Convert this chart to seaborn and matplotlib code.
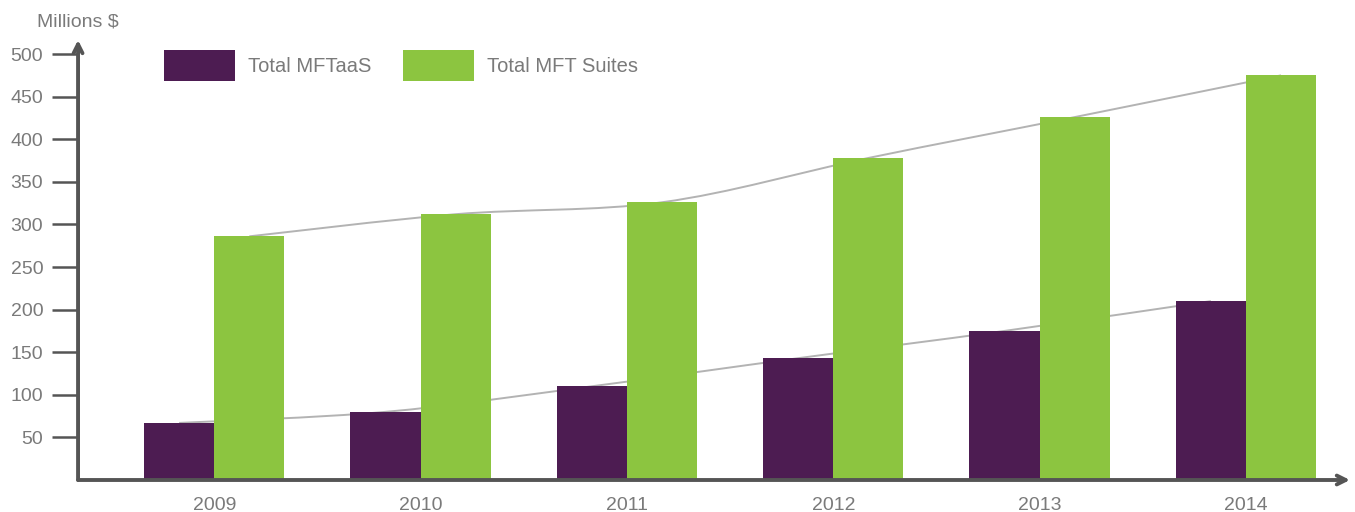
import numpy as np
import pandas as pd
import matplotlib
matplotlib.use('Agg')
import matplotlib.pyplot as plt
from matplotlib.path import Path
from matplotlib.patches import PathPatch
import seaborn as sns

years = ['2009', '2010', '2011', '2012', '2013', '2014']
mftaas = [67, 80, 110, 143, 175, 210]
mft_suites = [286, 312, 326, 378, 426, 475]
series_names = ['Total MFTaaS', 'Total MFT Suites']
y_ticks = [50, 100, 150, 200, 250, 300, 350, 400, 450, 500]

PURPLE = '#4d1c52'
GREEN = '#8cc540'
AXIS = '#555555'
TEXT = '#7a7a7a'

df = pd.DataFrame({
    'Year': years * 2,
    'Value': mftaas + mft_suites,
    'Series': [series_names[0]] * len(years) + [series_names[1]] * len(years),
})


def smooth_path(xs, ys):
    # catmull-rom style bezier through the bar tops
    pts = list(zip(xs, ys))
    verts = [pts[0]]
    codes = [Path.MOVETO]
    for i in range(len(pts) - 1):
        p0 = pts[i - 1] if i > 0 else pts[i]
        p1 = pts[i]
        p2 = pts[i + 1]
        p3 = pts[i + 2] if i + 2 < len(pts) else pts[i + 1]
        c1 = (p1[0] + (p2[0] - p0[0]) / 6, p1[1] + (p2[1] - p0[1]) / 6)
        c2 = (p2[0] - (p3[0] - p1[0]) / 6, p2[1] - (p3[1] - p1[1]) / 6)
        verts += [c1, c2, p2]
        codes += [Path.CURVE4] * 3
    return Path(verts, codes)


sns.set_style('white')
plt.rcParams['font.family'] = ['Liberation Sans', 'DejaVu Sans']

fig = plt.figure(figsize=(13.55, 5.12), dpi=100)
ax = fig.add_axes([0.0576, 0.0625, 0.9387, 0.8594])

bar_w = 0.68
sns.barplot(data=df, x='Year', y='Value', hue='Series', order=years,
            hue_order=series_names, palette=[PURPLE, GREEN], width=bar_w,
            saturation=1, linewidth=0, ax=ax, zorder=3)

# gray smooth lines behind the bars through bar top centres
x_idx = np.arange(len(years))
for vals, off in [(mftaas, -bar_w / 4), (mft_suites, bar_w / 4)]:
    p = smooth_path(x_idx + off, vals)
    ax.add_patch(PathPatch(p, facecolor='none', edgecolor='#b3b3b3', lw=1.4, zorder=2))

ax.set_xlim(-0.66, 5.504)
ax.set_ylim(0, 516.5)
ax.set_yticks(y_ticks)
ax.set_yticklabels([str(t) for t in y_ticks])
ax.set_xlabel('')
ax.set_ylabel('')

for s in ax.spines.values():
    s.set_visible(False)

ax.tick_params(axis='y', direction='out', length=19, width=1.8, color=AXIS,
               labelcolor=TEXT, labelsize=14, pad=6, left=True)
ax.tick_params(axis='x', length=0, labelcolor=TEXT, labelsize=14, pad=12)

# axis arrows
ax.annotate('', xy=(0, 1), xytext=(0, 0), xycoords='axes fraction',
            arrowprops=dict(arrowstyle='->', lw=2.8, color=AXIS, shrinkA=0, shrinkB=0,
                            mutation_scale=16), annotation_clip=False)
ax.annotate('', xy=(1, 0), xytext=(0, 0), xycoords='axes fraction',
            arrowprops=dict(arrowstyle='->', lw=2.8, color=AXIS, shrinkA=0, shrinkB=0,
                            mutation_scale=16), annotation_clip=False)

ax.text(0.0, 1.022, 'Millions $', transform=ax.transAxes, ha='center', va='bottom',
        color=TEXT, fontsize=14)

ax.legend(loc='upper left', bbox_to_anchor=(0.0535, 1.019), ncol=2, frameon=False,
          fontsize=14.5, handlelength=3.5, handleheight=2.0, handletextpad=0.65,
          columnspacing=1.6, labelcolor=TEXT)

fig.savefig('out.png', dpi=100, facecolor='white')
